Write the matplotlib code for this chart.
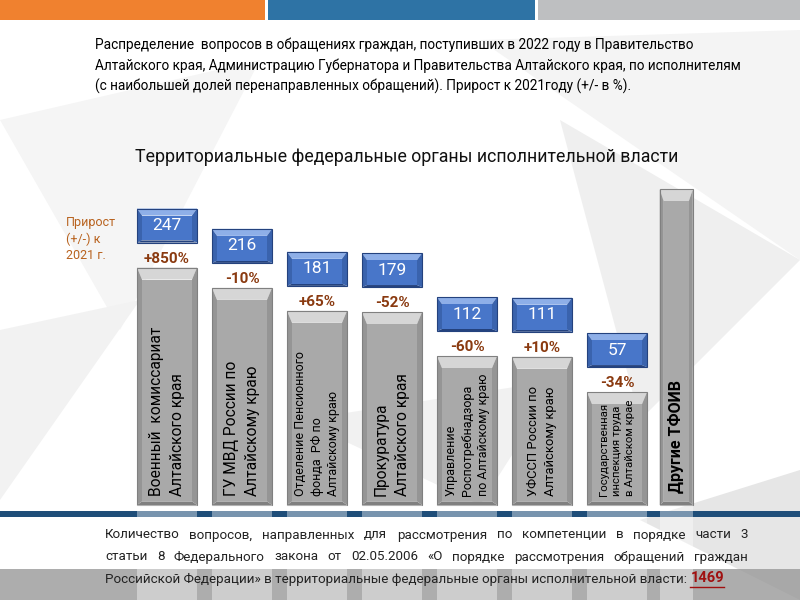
import matplotlib
matplotlib.use('Agg')
import matplotlib.pyplot as plt
from matplotlib.patches import Rectangle, Polygon

plt.rcParams['font.family'] = ['Roboto', 'DejaVu Sans']

# data
orgs = ['Военный  комиссариат\nАлтайского края',
        'ГУ МВД России по\nАлтайскому краю',
        'Отделение Пенсионного\nфонда  РФ по\nАлтайскому краю',
        'Прокуратура\nАлтайского края',
        'Управление\nРоспотребнадзора\nпо Алтайскому краю',
        'УФССП России по\nАлтайскому краю',
        'Государственная\nинспекция труда\nв Алтайском крае']
counts = [247, 216, 181, 179, 112, 111, 57]
growth = ['+850%', '-10%', '+65%', '-52%', '-60%', '+10%', '-34%']
other_label = 'Другие ТФОИВ'
other_count = 366   # остаток: 1469 минус семь органов выше
total = 1469

title = ('Распределение  вопросов в обращениях граждан, поступивших в 2022 году в Правительство\n'
         'Алтайского края, Администрацию Губернатора и Правительства Алтайского края, по исполнителям\n'
         '(с наибольшей долей перенаправленных обращений). Прирост к 2021году (+/- в %).')
subtitle = 'Территориальные федеральные органы исполнительной власти'
growth_note = 'Прирост\n(+/-) к\n2021 г.'
footer = ['Количество вопросов, направленных для рассмотрения по компетенции в порядке части 3',
          'статьи 8  Федерального закона от 02.05.2006 «О порядке рассмотрения обращений граждан',
          'Российской Федерации» в территориальные федеральные органы исполнительной власти: ']

label_sizes = [11.2, 11.2, 9, 11.2, 9, 9.4, 8.2]
label_spacing = [1.55, 1.55, 1.3, 1.55, 1.3, 1.45, 1.35]
BROWN = '#8a3a10'

fig = plt.figure(figsize=(8, 6), dpi=100)

# background layer in pixel units
bg = fig.add_axes([0, 0, 1, 1], zorder=0)
bg.set_xlim(0, 800)
bg.set_ylim(600, 0)
bg.axis('off')
for pts, c in [([(0, 120), (260, 60), (120, 330)], '#f5f5f5'),
               ([(480, 40), (800, 30), (800, 260)], '#f4f4f4'),
               ([(560, 120), (800, 260), (640, 420)], '#efefef'),
               ([(0, 330), (140, 300), (0, 500)], '#f2f2f2'),
               ([(300, 420), (560, 380), (480, 505)], '#f1f1f1'),
               ([(640, 520), (800, 470), (800, 600)], '#e6e6e6')]:
    bg.add_patch(Polygon(pts, closed=True, color=c, lw=0))
bg.add_patch(Rectangle((0, 0), 265, 20, color='#f0812f', lw=0))
bg.add_patch(Rectangle((268, 0), 267, 20, color='#2e73a5', lw=0))
bg.add_patch(Rectangle((538, 0), 262, 20, color='#bebfc1', lw=0))
bg.add_patch(Rectangle((0, 511), 800, 6, color='#1f4e79', lw=0))
bg.add_patch(Rectangle((0, 569), 800, 31, color='#999999', alpha=0.8, lw=0))

# bar layer: 75 px per category, 0.656 px per question, bars start at BASE
SCALE = 0.656
BASE = -115
PX = 1 / SCALE
ax = fig.add_axes([0.125, 0, 0.775, 0.75], zorder=1)
ax.set_xlim((100 - 167) / 75, (720 - 167) / 75)
ax.set_ylim(BASE - 95 * PX, BASE + 355 * PX)
ax.axis('off')
ax.patch.set_alpha(0)


def bevel(x0, y0, w, h, dx, dy, face, light, dark, side):
    x1, y1 = x0 + w, y0 + h
    ax.add_patch(Polygon([(x0, y1), (x1, y1), (x1 - dx, y1 - dy), (x0 + dx, y1 - dy)], color=light, lw=0))
    ax.add_patch(Polygon([(x0, y0), (x1, y0), (x1 - dx, y0 + dy * 0.3), (x0 + dx, y0 + dy * 0.3)], color=dark, lw=0))
    ax.add_patch(Polygon([(x0, y0), (x0 + dx, y0 + dy * 0.3), (x0 + dx, y1 - dy), (x0, y1)], color=side, lw=0))
    ax.add_patch(Polygon([(x1, y0), (x1 - dx, y0 + dy * 0.3), (x1 - dx, y1 - dy), (x1, y1)], color=side, lw=0))
    ax.add_patch(Rectangle((x0 + dx, y0 + dy * 0.3), w - 2 * dx, h - 1.3 * dy, color=face, lw=0))
    ax.add_patch(Rectangle((x0, y0), w, h, fill=False, ec=dark, lw=0.8))


xs = list(range(len(counts)))
W = 0.8
bars = ax.bar(xs, [c - BASE for c in counts], bottom=BASE, width=W, color='none')
for i, b in enumerate(bars):
    x0, w = b.get_x(), b.get_width()
    top = b.get_y() + b.get_height()
    bevel(x0, BASE, w, top - BASE, 5 / 75, 12 * PX, '#a9a9a9', '#d6d6d6', '#808080', '#959595')
    ax.add_patch(Rectangle((x0, ax.get_ylim()[0]), w, BASE - ax.get_ylim()[0],
                           color='white', alpha=0.4, lw=0))
    ax.text(b.get_x() + w / 2, top + 2 * PX, growth[i], ha='center', va='bottom',
            fontsize=11, fontweight='bold', color=BROWN)
    by = top + 25 * PX
    bevel(x0, by, w, 34 * PX, 5 / 75, 7 * PX, '#4876c9', '#8eafe8', '#24427e', '#3a63ad')
    ax.text(b.get_x() + w / 2, by + 17 * PX, str(counts[i]), ha='center', va='center',
            fontsize=12.5, color='white')
    ax.text(b.get_x() + w / 2, BASE + 9 * PX, orgs[i], rotation=90, ha='center', va='bottom',
            multialignment='left', fontsize=label_sizes[i], color='black',
            linespacing=label_spacing[i])

ob = ax.bar([6.79], [other_count - BASE], bottom=BASE, width=0.44, color='none')[0]
otop = ob.get_y() + ob.get_height()
bevel(ob.get_x(), BASE, ob.get_width(), otop - BASE, 4 / 75, 12 * PX,
      '#a9a9a9', '#d6d6d6', '#808080', '#959595')
ax.add_patch(Rectangle((ob.get_x(), ax.get_ylim()[0]), ob.get_width(), BASE - ax.get_ylim()[0],
                       color='white', alpha=0.4, lw=0))
ax.text(6.79, BASE + 12 * PX, other_label, rotation=90, ha='center', va='bottom',
        fontsize=11.5, fontweight='bold', color='black')

# text layer
fg = fig.add_axes([0, 0, 1, 1], zorder=2)
fg.set_xlim(0, 800)
fg.set_ylim(600, 0)
fg.axis('off')
fg.patch.set_alpha(0)

fg.text(95, 38, title, ha='left', va='top', fontsize=9.8,
        color='black', linespacing=1.5)
fg.text(407, 157, subtitle, ha='center', va='center', fontsize=12.8, color='#111111')
fg.text(66, 239, growth_note, ha='left', va='center', fontsize=9, color='#b8621e', linespacing=1.3)

r = fig.canvas.get_renderer()


def justified(text, y, x0, x1):
    words = text.split()
    arts, widths = [], []
    for wd in words:
        t = fg.text(0, y, wd, ha='left', va='center', fontsize=9.6, color='#222222')
        arts.append(t)
        widths.append(t.get_window_extent(renderer=r).width)
    gap = (x1 - x0 - sum(widths)) / (len(words) - 1)
    x = x0
    for t, wd in zip(arts, widths):
        t.set_x(x)
        x += wd + gap


justified(footer[0], 535, 105, 748)
justified(footer[1], 557, 105, 748)
t3 = fg.text(105, 579, footer[2], ha='left', va='center', fontsize=9.6, color='#222222')
x_end = 105 + t3.get_window_extent(renderer=r).width
tn = fg.text(x_end, 578, str(total), ha='left', va='center', fontsize=10.5,
             fontweight='bold', color='#a01010')
nw = tn.get_window_extent(renderer=r).width
fg.plot([x_end, x_end + nw], [587, 587], color='#a01010', lw=1)

fig.savefig('out.png', dpi=100)
